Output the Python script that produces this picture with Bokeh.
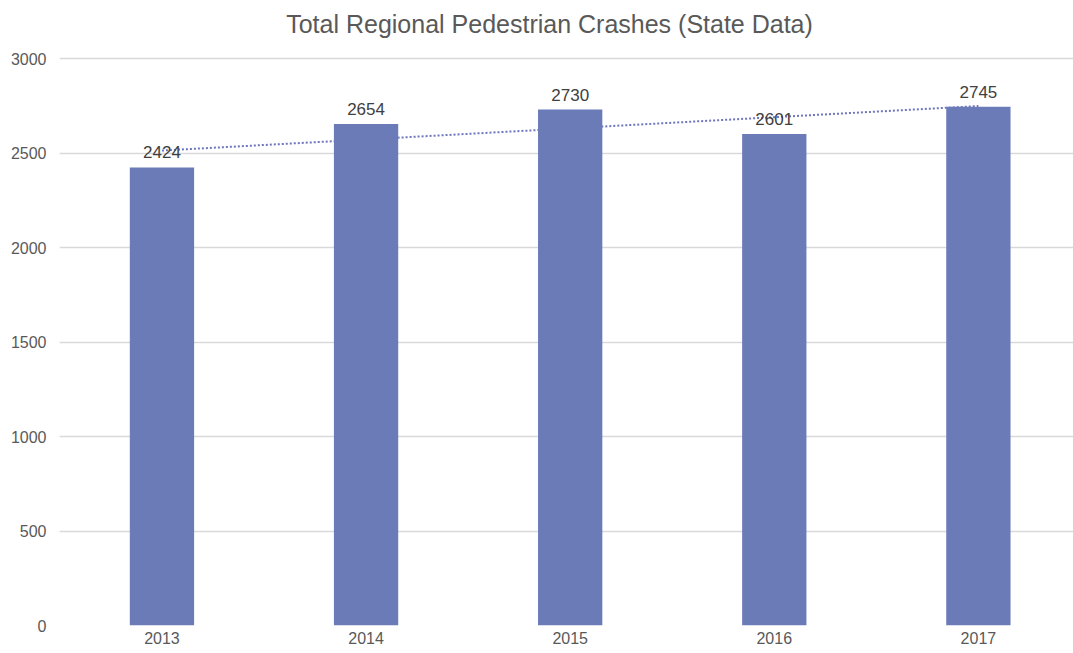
import numpy as np
from bokeh.plotting import figure
from bokeh.models import Range1d, FixedTicker, Label, ColumnDataSource
from bokeh.embed import file_html
from bokeh.resources import INLINE
from bokeh.core.properties import value

title_text = "Total Regional Pedestrian Crashes (State Data)"
years = ["2013", "2014", "2015", "2016", "2017"]
crashes = [2424, 2654, 2730, 2601, 2745]
y_ticks = [0, 500, 1000, 1500, 2000, 2500, 3000]

xs = list(range(len(years)))
# linear trendline (least squares) from the data
coef = np.polyfit(np.array(xs, dtype=float), np.array(crashes, dtype=float), 1)
trend = [float(coef[0] * x + coef[1]) for x in xs]

grey = "#595959"
bar_color = "#6B7BB8"

x0, x1 = -0.502, 4.466
# frame extends to the top of the canvas so the title can sit inside it
y0, y1 = 0, 3307
p = figure(width=1073, height=653, output_backend="svg", toolbar_location=None,
           x_range=Range1d(x0, x1), y_range=Range1d(y0, y1),
           min_border_left=59, min_border_right=0, min_border_bottom=28, min_border_top=0)

src = ColumnDataSource(dict(x=xs, y=crashes, lab=[str(v) for v in crashes]))
# trendline sits behind the bars, as in the reference
p.line(xs, trend, line_color="#6E75BE", line_width=2, line_dash="2 2")
p.vbar(x="x", top="y", width=0.315, source=src, color=bar_color, line_color=None)
p.text(x="x", y="y", text="lab", source=src, text_align="center", text_baseline="bottom",
       y_offset=-9, text_font=value("Liberation Sans"), text_font_size="17px", text_color="#404040")

title = Label(x=(x0 + x1) / 2, y=y1, x_offset=-17, y_offset=-23, text=title_text,
              text_align="center", text_baseline="middle", text_font="Liberation Sans",
              text_font_size="25px", text_color=grey)
p.add_layout(title)

p.outline_line_color = None
p.xgrid.grid_line_color = None
p.ygrid.grid_line_color = "#D9D9D9"
p.ygrid.grid_line_width = 1.3
p.yaxis.ticker = FixedTicker(ticks=y_ticks)
p.xaxis.ticker = FixedTicker(ticks=xs)
p.xaxis.major_label_overrides = {i: y for i, y in enumerate(years)}
for ax in (p.xaxis, p.yaxis):
    ax.axis_line_color = None
    ax.major_tick_line_color = None
    ax.minor_tick_line_color = None
    ax.major_tick_out = 0
    ax.major_tick_in = 0
    ax.minor_tick_out = 0
    ax.major_label_text_font = "Liberation Sans"
    ax.major_label_text_font_size = "16px"
    ax.major_label_text_color = grey
p.yaxis.major_label_standoff = 13
p.xaxis.major_label_standoff = 6

open("out.html", "w").write(file_html(p, INLINE))
